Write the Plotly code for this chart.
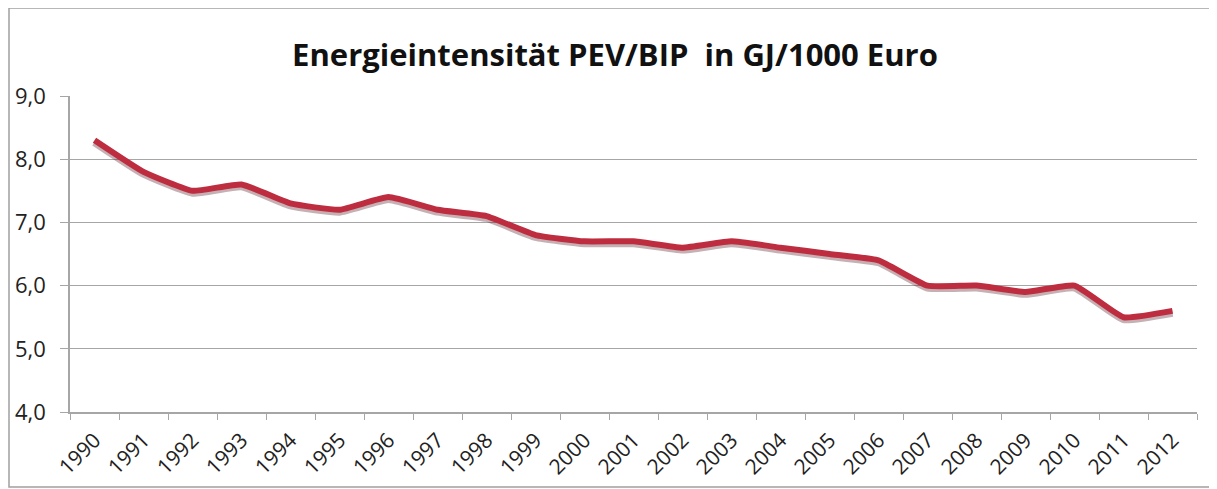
import plotly.graph_objects as go

years = [str(y) for y in range(1990, 2013)]
intensity = [8.3, 7.8, 7.5, 7.6, 7.3, 7.2, 7.4, 7.2, 7.1, 6.8, 6.7, 6.7,
             6.6, 6.7, 6.6, 6.5, 6.4, 6.0, 6.0, 5.9, 6.0, 5.5, 5.6]
y_ticks = [4, 5, 6, 7, 8, 9]
title_text = "Energieintensität PEV/BIP  in GJ/1000 Euro"

# page body adds an 8px offset; the figure is sized to fill the rest
W, H = 1209, 481
ml, mr, mt, mb = 62, 20, 88, 77
pw, ph = W - ml - mr, H - mt - mb

fig = go.Figure()
# subtle shadow line
fig.add_trace(go.Scatter(
    x=years, y=[v - 0.03 for v in intensity], mode="lines",
    line=dict(color="rgba(90,30,40,0.35)", width=8, shape="spline", smoothing=0.4),
    hoverinfo="skip", showlegend=False))
fig.add_trace(go.Scatter(
    x=years, y=intensity, mode="lines",
    line=dict(color="#BE2D3F", width=6, shape="spline", smoothing=0.4),
    showlegend=False))

fig.update_layout(
    width=W, height=H,
    margin=dict(l=ml, r=mr, t=mt, b=mb, autoexpand=False),
    paper_bgcolor="white", plot_bgcolor="white",
    separators=",.",
    title=dict(text="<b>" + title_text + "</b>", x=(607 - ml) / pw, xref="paper",
               xanchor="center", y=1 - 47 / H, yanchor="middle", automargin=False,
               font=dict(family="Open Sans", size=31, color="#111111")),
    font=dict(family="Open Sans", color="#333333"),
    shapes=[dict(type="rect", xref="paper", yref="paper",
                 x0=(1 - ml) / pw, x1=(1204 - ml) / pw,
                 y0=(mt + ph - 479) / ph, y1=(mt + ph - 0) / ph,
                 line=dict(color="#A0A0A0", width=1.5), fillcolor="rgba(0,0,0,0)",
                 layer="below")],
)
fig.update_xaxes(
    type="category", range=[-0.5, len(years) - 0.5], automargin=False,
    tickangle=-45, tickfont=dict(size=21, color="#222222"),
    showline=True, linecolor="#A6A6A6", linewidth=1.5,
    ticks="outside", tickson="boundaries", ticklen=6, tickcolor="#A6A6A6",
    showgrid=False, zeroline=False, ticklabelstandoff=6,
)
fig.update_yaxes(
    range=[4, 9], tickvals=y_ticks, tickformat=".1f", automargin=False,
    tickfont=dict(size=22, color="#222222"),
    showline=True, linecolor="#A6A6A6", linewidth=1.5,
    ticks="outside", ticklen=8, tickcolor="#A6A6A6",
    showgrid=True, gridcolor="#A6A6A6", gridwidth=1.2,
    zeroline=False, ticklabelstandoff=10,
)

fig.write_html("out.html")
